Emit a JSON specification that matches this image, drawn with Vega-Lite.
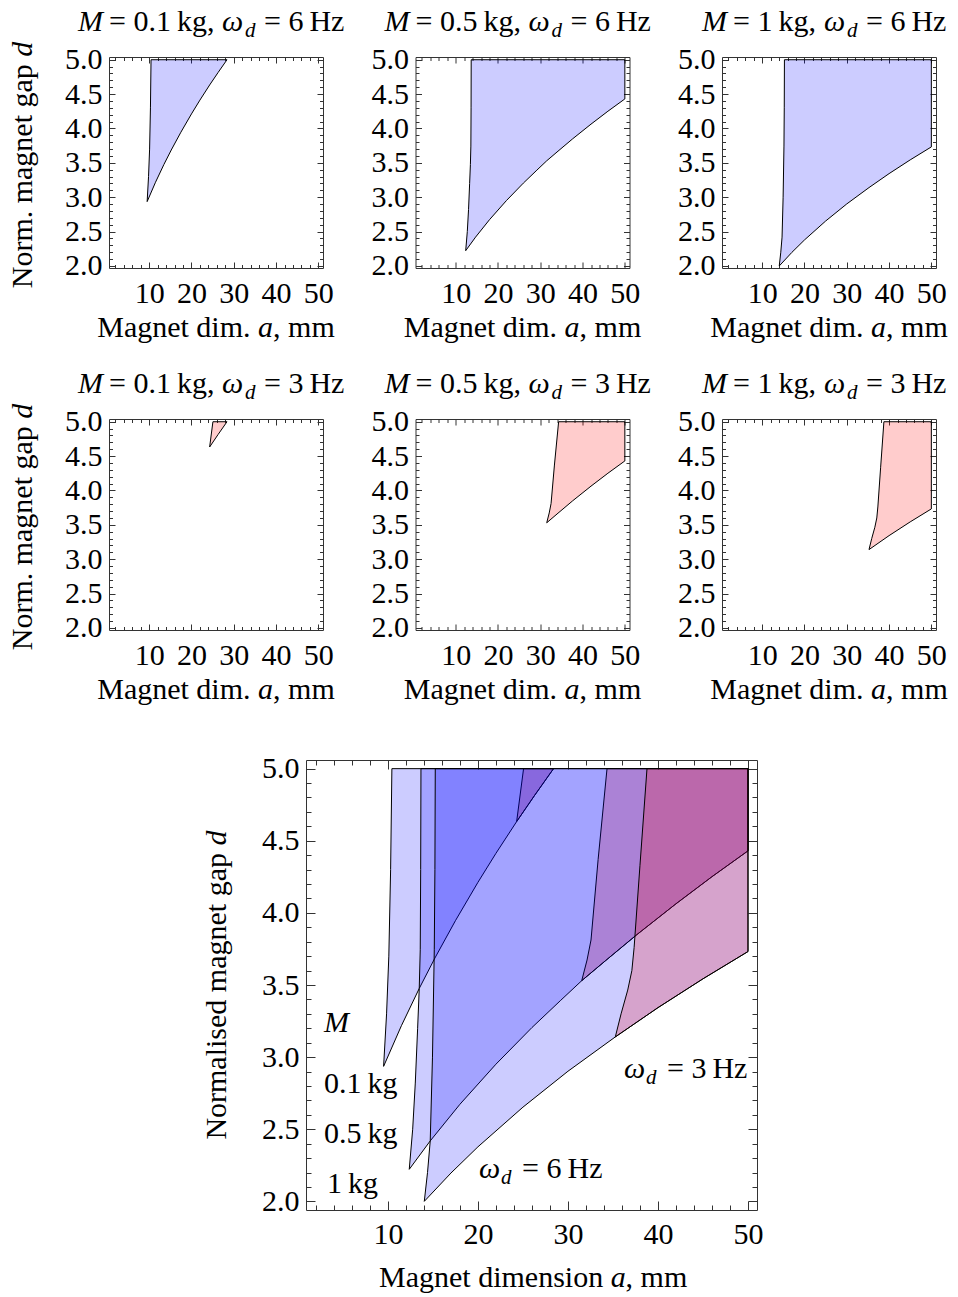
{
"$schema":"https://vega.github.io/schema/vega-lite/v6.json",
"background":"white",
"padding":{"left":7,"top":7,"right":0,"bottom":0},
"config":{
 "view":{"stroke":null},
 "axis":{"labelFont":"Liberation Serif","labelFontSize":30,"labelColor":"black","domainColor":"#333333","tickColor":"#333333","grid":false,"labelFlush":false,"labelOverlap":false,"labelBound":false,"tickWidth":1,"domainWidth":1},
 "text":{"font":"Liberation Serif","fontSize":30,"color":"black","align":"left","baseline":"alphabetic"}
},
"datasets":{"polys":[
{"poly":"p1","M":0.1,"freq":"6 Hz","i":0,"a":9.52,"d":2.936},
{"poly":"p1","M":0.1,"freq":"6 Hz","i":1,"a":9.85,"d":3.3},
{"poly":"p1","M":0.1,"freq":"6 Hz","i":2,"a":10.1,"d":3.7},
{"poly":"p1","M":0.1,"freq":"6 Hz","i":3,"a":10.3,"d":4.3},
{"poly":"p1","M":0.1,"freq":"6 Hz","i":4,"a":10.44,"d":5.0},
{"poly":"p1","M":0.1,"freq":"6 Hz","i":5,"a":28.4,"d":5.0},
{"poly":"p1","M":0.1,"freq":"6 Hz","i":6,"a":26.3,"d":4.815},
{"poly":"p1","M":0.1,"freq":"6 Hz","i":7,"a":24.3,"d":4.633},
{"poly":"p1","M":0.1,"freq":"6 Hz","i":8,"a":22,"d":4.413},
{"poly":"p1","M":0.1,"freq":"6 Hz","i":9,"a":20,"d":4.212},
{"poly":"p1","M":0.1,"freq":"6 Hz","i":10,"a":17.5,"d":3.946},
{"poly":"p1","M":0.1,"freq":"6 Hz","i":11,"a":15.22,"d":3.687},
{"poly":"p1","M":0.1,"freq":"6 Hz","i":12,"a":13.48,"d":3.476},
{"poly":"p1","M":0.1,"freq":"6 Hz","i":13,"a":11.5,"d":3.218},
{"poly":"p1","M":0.1,"freq":"6 Hz","i":14,"a":9.52,"d":2.936},
{"poly":"p2","M":0.1,"freq":"3 Hz","i":0,"a":24.3,"d":4.633},
{"poly":"p2","M":0.1,"freq":"3 Hz","i":1,"a":25.07,"d":5.0},
{"poly":"p2","M":0.1,"freq":"3 Hz","i":2,"a":28.4,"d":5.0},
{"poly":"p2","M":0.1,"freq":"3 Hz","i":3,"a":26.3,"d":4.815},
{"poly":"p2","M":0.1,"freq":"3 Hz","i":4,"a":24.3,"d":4.633},
{"poly":"p3","M":0.5,"freq":"6 Hz","i":0,"a":12.37,"d":2.222},
{"poly":"p3","M":0.5,"freq":"6 Hz","i":1,"a":12.75,"d":2.5},
{"poly":"p3","M":0.5,"freq":"6 Hz","i":2,"a":13.04,"d":2.82},
{"poly":"p3","M":0.5,"freq":"6 Hz","i":3,"a":13.3,"d":3.2},
{"poly":"p3","M":0.5,"freq":"6 Hz","i":4,"a":13.48,"d":3.476},
{"poly":"p3","M":0.5,"freq":"6 Hz","i":5,"a":13.59,"d":3.744},
{"poly":"p3","M":0.5,"freq":"6 Hz","i":6,"a":13.64,"d":4.3},
{"poly":"p3","M":0.5,"freq":"6 Hz","i":7,"a":13.67,"d":5.0},
{"poly":"p3","M":0.5,"freq":"6 Hz","i":8,"a":50,"d":5.0},
{"poly":"p3","M":0.5,"freq":"6 Hz","i":9,"a":50,"d":4.43},
{"poly":"p3","M":0.5,"freq":"6 Hz","i":10,"a":46,"d":4.251},
{"poly":"p3","M":0.5,"freq":"6 Hz","i":11,"a":42,"d":4.063},
{"poly":"p3","M":0.5,"freq":"6 Hz","i":12,"a":37.67,"d":3.85},
{"poly":"p3","M":0.5,"freq":"6 Hz","i":13,"a":34.2,"d":3.67},
{"poly":"p3","M":0.5,"freq":"6 Hz","i":14,"a":31.53,"d":3.53},
{"poly":"p3","M":0.5,"freq":"6 Hz","i":15,"a":29.2,"d":3.394},
{"poly":"p3","M":0.5,"freq":"6 Hz","i":16,"a":26,"d":3.205},
{"poly":"p3","M":0.5,"freq":"6 Hz","i":17,"a":22,"d":2.951},
{"poly":"p3","M":0.5,"freq":"6 Hz","i":18,"a":18,"d":2.673},
{"poly":"p3","M":0.5,"freq":"6 Hz","i":19,"a":14.7,"d":2.419},
{"poly":"p3","M":0.5,"freq":"6 Hz","i":20,"a":12.37,"d":2.222},
{"poly":"p4","M":0.5,"freq":"3 Hz","i":0,"a":31.53,"d":3.53},
{"poly":"p4","M":0.5,"freq":"3 Hz","i":1,"a":32.12,"d":3.673},
{"poly":"p4","M":0.5,"freq":"3 Hz","i":2,"a":32.56,"d":3.812},
{"poly":"p4","M":0.5,"freq":"3 Hz","i":3,"a":33.35,"d":4.37},
{"poly":"p4","M":0.5,"freq":"3 Hz","i":4,"a":34.34,"d":5.0},
{"poly":"p4","M":0.5,"freq":"3 Hz","i":5,"a":50,"d":5.0},
{"poly":"p4","M":0.5,"freq":"3 Hz","i":6,"a":50,"d":4.43},
{"poly":"p4","M":0.5,"freq":"3 Hz","i":7,"a":46,"d":4.251},
{"poly":"p4","M":0.5,"freq":"3 Hz","i":8,"a":42,"d":4.063},
{"poly":"p4","M":0.5,"freq":"3 Hz","i":9,"a":37.67,"d":3.85},
{"poly":"p4","M":0.5,"freq":"3 Hz","i":10,"a":34.2,"d":3.67},
{"poly":"p4","M":0.5,"freq":"3 Hz","i":11,"a":31.53,"d":3.53},
{"poly":"p5","M":1,"freq":"6 Hz","i":0,"a":14.04,"d":2.0},
{"poly":"p5","M":1,"freq":"6 Hz","i":1,"a":14.4,"d":2.2},
{"poly":"p5","M":1,"freq":"6 Hz","i":2,"a":14.7,"d":2.419},
{"poly":"p5","M":1,"freq":"6 Hz","i":3,"a":14.95,"d":3.0},
{"poly":"p5","M":1,"freq":"6 Hz","i":4,"a":15.15,"d":3.744},
{"poly":"p5","M":1,"freq":"6 Hz","i":5,"a":15.22,"d":4.3},
{"poly":"p5","M":1,"freq":"6 Hz","i":6,"a":15.26,"d":5.0},
{"poly":"p5","M":1,"freq":"6 Hz","i":7,"a":50,"d":5.0},
{"poly":"p5","M":1,"freq":"6 Hz","i":8,"a":50,"d":3.732},
{"poly":"p5","M":1,"freq":"6 Hz","i":9,"a":45,"d":3.543},
{"poly":"p5","M":1,"freq":"6 Hz","i":10,"a":40,"d":3.343},
{"poly":"p5","M":1,"freq":"6 Hz","i":11,"a":35.26,"d":3.14},
{"poly":"p5","M":1,"freq":"6 Hz","i":12,"a":30,"d":2.902},
{"poly":"p5","M":1,"freq":"6 Hz","i":13,"a":25,"d":2.653},
{"poly":"p5","M":1,"freq":"6 Hz","i":14,"a":20,"d":2.378},
{"poly":"p5","M":1,"freq":"6 Hz","i":15,"a":17,"d":2.196},
{"poly":"p5","M":1,"freq":"6 Hz","i":16,"a":14.04,"d":2.0},
{"poly":"p6","M":1,"freq":"3 Hz","i":0,"a":35.26,"d":3.14},
{"poly":"p6","M":1,"freq":"3 Hz","i":1,"a":35.9,"d":3.3},
{"poly":"p6","M":1,"freq":"3 Hz","i":2,"a":36.64,"d":3.465},
{"poly":"p6","M":1,"freq":"3 Hz","i":3,"a":37.1,"d":3.6},
{"poly":"p6","M":1,"freq":"3 Hz","i":4,"a":37.35,"d":3.76},
{"poly":"p6","M":1,"freq":"3 Hz","i":5,"a":38.0,"d":4.33},
{"poly":"p6","M":1,"freq":"3 Hz","i":6,"a":38.78,"d":5.0},
{"poly":"p6","M":1,"freq":"3 Hz","i":7,"a":50,"d":5.0},
{"poly":"p6","M":1,"freq":"3 Hz","i":8,"a":50,"d":3.732},
{"poly":"p6","M":1,"freq":"3 Hz","i":9,"a":45,"d":3.543},
{"poly":"p6","M":1,"freq":"3 Hz","i":10,"a":40,"d":3.343},
{"poly":"p6","M":1,"freq":"3 Hz","i":11,"a":35.26,"d":3.14}
]},
"vconcat":[
{"vconcat":[
{"hconcat":[
{"width":214,"height":211,"data":{"name":"polys"},"resolve":{"axis":{"x":"independent","y":"independent"}},"layer":[
{"transform":[{"filter":"datum.poly === 'p1'"}],"mark":{"type":"line","stroke":"black","strokeWidth":1,"fillOpacity":0.2},"encoding":{"x":{"field":"a","type":"quantitative","scale":{"domain":[0.5,51.1],"nice":false},"axis":{"orient":"bottom","values":[10,20,30,40,50],"tickSize":-6,"labelPadding":16,"title":null}},"y":{"field":"d","type":"quantitative","scale":{"domain":[1.97,5.04],"nice":false},"axis":{"orient":"left","values":[2,2.5,3,3.5,4,4.5,5],"format":".1f","tickSize":-6,"labelPadding":13,"title":null}},"order":{"field":"i","type":"quantitative"},"detail":{"field":"poly","type":"nominal"},"fill":{"field":"freq","type":"nominal","scale":{"domain":["6 Hz","3 Hz"],"range":["#0000ff","#ff0000"]},"legend":null}}},
{"mark":{"type":"point","opacity":0},"encoding":{"x":{"field":"a","type":"quantitative","axis":{"orient":"bottom","values":[2,4,6,8,12,14,16,18,22,24,26,28,32,34,36,38,42,44,46,48],"tickSize":-3.5,"labels":false,"domain":false,"title":null}},"y":{"field":"d","type":"quantitative","axis":{"orient":"left","values":[2.1,2.2,2.3,2.4,2.6,2.7,2.8,2.9,3.1,3.2,3.3,3.4,3.6,3.7,3.8,3.9,4.1,4.2,4.3,4.4,4.6,4.7,4.8,4.9],"tickSize":-3.5,"labels":false,"domain":false,"title":null}}}},
{"mark":{"type":"point","opacity":0},"encoding":{"x":{"field":"a","type":"quantitative","axis":{"orient":"top","values":[10,20,30,40,50],"tickSize":-6,"labels":false,"title":null}},"y":{"field":"d","type":"quantitative","axis":{"orient":"right","values":[2,2.5,3,3.5,4,4.5,5],"tickSize":-6,"labels":false,"title":null}}}},
{"mark":{"type":"point","opacity":0},"encoding":{"x":{"field":"a","type":"quantitative","axis":{"orient":"top","values":[2,4,6,8,12,14,16,18,22,24,26,28,32,34,36,38,42,44,46,48],"tickSize":-3.5,"labels":false,"domain":false,"title":null}},"y":{"field":"d","type":"quantitative","axis":{"orient":"right","values":[2.1,2.2,2.3,2.4,2.6,2.7,2.8,2.9,3.1,3.2,3.3,3.4,3.6,3.7,3.8,3.9,4.1,4.2,4.3,4.4,4.6,4.7,4.8,4.9],"tickSize":-3.5,"labels":false,"domain":false,"title":null}}}},
{"data":{"values":[{"t":"M"}]},"mark":{"type":"text","fontStyle":"italic"},"encoding":{"text":{"field":"t"},"x":{"datum":-6.83,"axis":null},"y":{"datum":5.418,"axis":null}}},
{"data":{"values":[{"t":"= 0.1\u2009kg,"}]},"mark":{"type":"text"},"encoding":{"text":{"field":"t"},"x":{"datum":0.5,"axis":null},"y":{"datum":5.418,"axis":null}}},
{"data":{"values":[{"t":"ω"}]},"mark":{"type":"text","fontStyle":"italic"},"encoding":{"text":{"field":"t"},"x":{"datum":27.22,"axis":null},"y":{"datum":5.418,"axis":null}}},
{"data":{"values":[{"t":"d"}]},"mark":{"type":"text","fontStyle":"italic","fontSize":21},"encoding":{"text":{"field":"t"},"x":{"datum":32.66,"axis":null},"y":{"datum":5.331,"axis":null}}},
{"data":{"values":[{"t":"= 6\u2009Hz"}]},"mark":{"type":"text"},"encoding":{"text":{"field":"t"},"x":{"datum":37.15,"axis":null},"y":{"datum":5.418,"axis":null}}},
{"data":{"values":[{"t":"Magnet dim."}]},"mark":{"type":"text"},"encoding":{"text":{"field":"t"},"x":{"datum":-2.29,"axis":null},"y":{"datum":0.966,"axis":null}}},
{"data":{"values":[{"t":"a"}]},"mark":{"type":"text","fontStyle":"italic"},"encoding":{"text":{"field":"t"},"x":{"datum":35.76,"axis":null},"y":{"datum":0.966,"axis":null}}},
{"data":{"values":[{"t":", mm"}]},"mark":{"type":"text"},"encoding":{"text":{"field":"t"},"x":{"datum":39.3,"axis":null},"y":{"datum":0.966,"axis":null}}},
{"data":{"values":[{"t":"Norm. magnet gap"}]},"mark":{"type":"text","angle":270},"encoding":{"text":{"field":"t"},"x":{"datum":-17.71,"axis":null},"y":{"datum":1.675,"axis":null}}},
{"data":{"values":[{"t":"d"}]},"mark":{"type":"text","angle":270,"fontStyle":"italic"},"encoding":{"text":{"field":"t"},"x":{"datum":-17.71,"axis":null},"y":{"datum":5.044,"axis":null}}}
]},
{"width":214,"height":211,"data":{"name":"polys"},"resolve":{"axis":{"x":"independent","y":"independent"}},"layer":[
{"transform":[{"filter":"datum.poly === 'p3'"}],"mark":{"type":"line","stroke":"black","strokeWidth":1,"fillOpacity":0.2},"encoding":{"x":{"field":"a","type":"quantitative","scale":{"domain":[0.5,51.1],"nice":false},"axis":{"orient":"bottom","values":[10,20,30,40,50],"tickSize":-6,"labelPadding":16,"title":null}},"y":{"field":"d","type":"quantitative","scale":{"domain":[1.97,5.04],"nice":false},"axis":{"orient":"left","values":[2,2.5,3,3.5,4,4.5,5],"format":".1f","tickSize":-6,"labelPadding":13,"title":null}},"order":{"field":"i","type":"quantitative"},"detail":{"field":"poly","type":"nominal"},"fill":{"field":"freq","type":"nominal","scale":{"domain":["6 Hz","3 Hz"],"range":["#0000ff","#ff0000"]},"legend":null}}},
{"mark":{"type":"point","opacity":0},"encoding":{"x":{"field":"a","type":"quantitative","axis":{"orient":"bottom","values":[2,4,6,8,12,14,16,18,22,24,26,28,32,34,36,38,42,44,46,48],"tickSize":-3.5,"labels":false,"domain":false,"title":null}},"y":{"field":"d","type":"quantitative","axis":{"orient":"left","values":[2.1,2.2,2.3,2.4,2.6,2.7,2.8,2.9,3.1,3.2,3.3,3.4,3.6,3.7,3.8,3.9,4.1,4.2,4.3,4.4,4.6,4.7,4.8,4.9],"tickSize":-3.5,"labels":false,"domain":false,"title":null}}}},
{"mark":{"type":"point","opacity":0},"encoding":{"x":{"field":"a","type":"quantitative","axis":{"orient":"top","values":[10,20,30,40,50],"tickSize":-6,"labels":false,"title":null}},"y":{"field":"d","type":"quantitative","axis":{"orient":"right","values":[2,2.5,3,3.5,4,4.5,5],"tickSize":-6,"labels":false,"title":null}}}},
{"mark":{"type":"point","opacity":0},"encoding":{"x":{"field":"a","type":"quantitative","axis":{"orient":"top","values":[2,4,6,8,12,14,16,18,22,24,26,28,32,34,36,38,42,44,46,48],"tickSize":-3.5,"labels":false,"domain":false,"title":null}},"y":{"field":"d","type":"quantitative","axis":{"orient":"right","values":[2.1,2.2,2.3,2.4,2.6,2.7,2.8,2.9,3.1,3.2,3.3,3.4,3.6,3.7,3.8,3.9,4.1,4.2,4.3,4.4,4.6,4.7,4.8,4.9],"tickSize":-3.5,"labels":false,"domain":false,"title":null}}}},
{"data":{"values":[{"t":"M"}]},"mark":{"type":"text","fontStyle":"italic"},"encoding":{"text":{"field":"t"},"x":{"datum":-6.83,"axis":null},"y":{"datum":5.418,"axis":null}}},
{"data":{"values":[{"t":"= 0.5\u2009kg,"}]},"mark":{"type":"text"},"encoding":{"text":{"field":"t"},"x":{"datum":0.5,"axis":null},"y":{"datum":5.418,"axis":null}}},
{"data":{"values":[{"t":"ω"}]},"mark":{"type":"text","fontStyle":"italic"},"encoding":{"text":{"field":"t"},"x":{"datum":27.22,"axis":null},"y":{"datum":5.418,"axis":null}}},
{"data":{"values":[{"t":"d"}]},"mark":{"type":"text","fontStyle":"italic","fontSize":21},"encoding":{"text":{"field":"t"},"x":{"datum":32.66,"axis":null},"y":{"datum":5.331,"axis":null}}},
{"data":{"values":[{"t":"= 6\u2009Hz"}]},"mark":{"type":"text"},"encoding":{"text":{"field":"t"},"x":{"datum":37.15,"axis":null},"y":{"datum":5.418,"axis":null}}},
{"data":{"values":[{"t":"Magnet dim."}]},"mark":{"type":"text"},"encoding":{"text":{"field":"t"},"x":{"datum":-2.29,"axis":null},"y":{"datum":0.966,"axis":null}}},
{"data":{"values":[{"t":"a"}]},"mark":{"type":"text","fontStyle":"italic"},"encoding":{"text":{"field":"t"},"x":{"datum":35.76,"axis":null},"y":{"datum":0.966,"axis":null}}},
{"data":{"values":[{"t":", mm"}]},"mark":{"type":"text"},"encoding":{"text":{"field":"t"},"x":{"datum":39.3,"axis":null},"y":{"datum":0.966,"axis":null}}}
]},
{"width":214,"height":211,"data":{"name":"polys"},"resolve":{"axis":{"x":"independent","y":"independent"}},"layer":[
{"transform":[{"filter":"datum.poly === 'p5'"}],"mark":{"type":"line","stroke":"black","strokeWidth":1,"fillOpacity":0.2},"encoding":{"x":{"field":"a","type":"quantitative","scale":{"domain":[0.5,51.1],"nice":false},"axis":{"orient":"bottom","values":[10,20,30,40,50],"tickSize":-6,"labelPadding":16,"title":null}},"y":{"field":"d","type":"quantitative","scale":{"domain":[1.97,5.04],"nice":false},"axis":{"orient":"left","values":[2,2.5,3,3.5,4,4.5,5],"format":".1f","tickSize":-6,"labelPadding":13,"title":null}},"order":{"field":"i","type":"quantitative"},"detail":{"field":"poly","type":"nominal"},"fill":{"field":"freq","type":"nominal","scale":{"domain":["6 Hz","3 Hz"],"range":["#0000ff","#ff0000"]},"legend":null}}},
{"mark":{"type":"point","opacity":0},"encoding":{"x":{"field":"a","type":"quantitative","axis":{"orient":"bottom","values":[2,4,6,8,12,14,16,18,22,24,26,28,32,34,36,38,42,44,46,48],"tickSize":-3.5,"labels":false,"domain":false,"title":null}},"y":{"field":"d","type":"quantitative","axis":{"orient":"left","values":[2.1,2.2,2.3,2.4,2.6,2.7,2.8,2.9,3.1,3.2,3.3,3.4,3.6,3.7,3.8,3.9,4.1,4.2,4.3,4.4,4.6,4.7,4.8,4.9],"tickSize":-3.5,"labels":false,"domain":false,"title":null}}}},
{"mark":{"type":"point","opacity":0},"encoding":{"x":{"field":"a","type":"quantitative","axis":{"orient":"top","values":[10,20,30,40,50],"tickSize":-6,"labels":false,"title":null}},"y":{"field":"d","type":"quantitative","axis":{"orient":"right","values":[2,2.5,3,3.5,4,4.5,5],"tickSize":-6,"labels":false,"title":null}}}},
{"mark":{"type":"point","opacity":0},"encoding":{"x":{"field":"a","type":"quantitative","axis":{"orient":"top","values":[2,4,6,8,12,14,16,18,22,24,26,28,32,34,36,38,42,44,46,48],"tickSize":-3.5,"labels":false,"domain":false,"title":null}},"y":{"field":"d","type":"quantitative","axis":{"orient":"right","values":[2.1,2.2,2.3,2.4,2.6,2.7,2.8,2.9,3.1,3.2,3.3,3.4,3.6,3.7,3.8,3.9,4.1,4.2,4.3,4.4,4.6,4.7,4.8,4.9],"tickSize":-3.5,"labels":false,"domain":false,"title":null}}}},
{"data":{"values":[{"t":"M"}]},"mark":{"type":"text","fontStyle":"italic"},"encoding":{"text":{"field":"t"},"x":{"datum":-4.23,"axis":null},"y":{"datum":5.418,"axis":null}}},
{"data":{"values":[{"t":"= 1\u2009kg,"}]},"mark":{"type":"text"},"encoding":{"text":{"field":"t"},"x":{"datum":3.1,"axis":null},"y":{"datum":5.418,"axis":null}}},
{"data":{"values":[{"t":"ω"}]},"mark":{"type":"text","fontStyle":"italic"},"encoding":{"text":{"field":"t"},"x":{"datum":24.62,"axis":null},"y":{"datum":5.418,"axis":null}}},
{"data":{"values":[{"t":"d"}]},"mark":{"type":"text","fontStyle":"italic","fontSize":21},"encoding":{"text":{"field":"t"},"x":{"datum":30.06,"axis":null},"y":{"datum":5.331,"axis":null}}},
{"data":{"values":[{"t":"= 6\u2009Hz"}]},"mark":{"type":"text"},"encoding":{"text":{"field":"t"},"x":{"datum":34.55,"axis":null},"y":{"datum":5.418,"axis":null}}},
{"data":{"values":[{"t":"Magnet dim."}]},"mark":{"type":"text"},"encoding":{"text":{"field":"t"},"x":{"datum":-2.29,"axis":null},"y":{"datum":0.966,"axis":null}}},
{"data":{"values":[{"t":"a"}]},"mark":{"type":"text","fontStyle":"italic"},"encoding":{"text":{"field":"t"},"x":{"datum":35.76,"axis":null},"y":{"datum":0.966,"axis":null}}},
{"data":{"values":[{"t":", mm"}]},"mark":{"type":"text"},"encoding":{"text":{"field":"t"},"x":{"datum":39.3,"axis":null},"y":{"datum":0.966,"axis":null}}}
]}
],"spacing":92.5,"bounds":"flush"},
{"hconcat":[
{"width":214,"height":211,"data":{"name":"polys"},"resolve":{"axis":{"x":"independent","y":"independent"}},"layer":[
{"transform":[{"filter":"datum.poly === 'p2'"}],"mark":{"type":"line","stroke":"black","strokeWidth":1,"fillOpacity":0.2},"encoding":{"x":{"field":"a","type":"quantitative","scale":{"domain":[0.5,51.1],"nice":false},"axis":{"orient":"bottom","values":[10,20,30,40,50],"tickSize":-6,"labelPadding":16,"title":null}},"y":{"field":"d","type":"quantitative","scale":{"domain":[1.97,5.04],"nice":false},"axis":{"orient":"left","values":[2,2.5,3,3.5,4,4.5,5],"format":".1f","tickSize":-6,"labelPadding":13,"title":null}},"order":{"field":"i","type":"quantitative"},"detail":{"field":"poly","type":"nominal"},"fill":{"field":"freq","type":"nominal","scale":{"domain":["6 Hz","3 Hz"],"range":["#0000ff","#ff0000"]},"legend":null}}},
{"mark":{"type":"point","opacity":0},"encoding":{"x":{"field":"a","type":"quantitative","axis":{"orient":"bottom","values":[2,4,6,8,12,14,16,18,22,24,26,28,32,34,36,38,42,44,46,48],"tickSize":-3.5,"labels":false,"domain":false,"title":null}},"y":{"field":"d","type":"quantitative","axis":{"orient":"left","values":[2.1,2.2,2.3,2.4,2.6,2.7,2.8,2.9,3.1,3.2,3.3,3.4,3.6,3.7,3.8,3.9,4.1,4.2,4.3,4.4,4.6,4.7,4.8,4.9],"tickSize":-3.5,"labels":false,"domain":false,"title":null}}}},
{"mark":{"type":"point","opacity":0},"encoding":{"x":{"field":"a","type":"quantitative","axis":{"orient":"top","values":[10,20,30,40,50],"tickSize":-6,"labels":false,"title":null}},"y":{"field":"d","type":"quantitative","axis":{"orient":"right","values":[2,2.5,3,3.5,4,4.5,5],"tickSize":-6,"labels":false,"title":null}}}},
{"mark":{"type":"point","opacity":0},"encoding":{"x":{"field":"a","type":"quantitative","axis":{"orient":"top","values":[2,4,6,8,12,14,16,18,22,24,26,28,32,34,36,38,42,44,46,48],"tickSize":-3.5,"labels":false,"domain":false,"title":null}},"y":{"field":"d","type":"quantitative","axis":{"orient":"right","values":[2.1,2.2,2.3,2.4,2.6,2.7,2.8,2.9,3.1,3.2,3.3,3.4,3.6,3.7,3.8,3.9,4.1,4.2,4.3,4.4,4.6,4.7,4.8,4.9],"tickSize":-3.5,"labels":false,"domain":false,"title":null}}}},
{"data":{"values":[{"t":"M"}]},"mark":{"type":"text","fontStyle":"italic"},"encoding":{"text":{"field":"t"},"x":{"datum":-6.83,"axis":null},"y":{"datum":5.418,"axis":null}}},
{"data":{"values":[{"t":"= 0.1\u2009kg,"}]},"mark":{"type":"text"},"encoding":{"text":{"field":"t"},"x":{"datum":0.5,"axis":null},"y":{"datum":5.418,"axis":null}}},
{"data":{"values":[{"t":"ω"}]},"mark":{"type":"text","fontStyle":"italic"},"encoding":{"text":{"field":"t"},"x":{"datum":27.22,"axis":null},"y":{"datum":5.418,"axis":null}}},
{"data":{"values":[{"t":"d"}]},"mark":{"type":"text","fontStyle":"italic","fontSize":21},"encoding":{"text":{"field":"t"},"x":{"datum":32.66,"axis":null},"y":{"datum":5.331,"axis":null}}},
{"data":{"values":[{"t":"= 3\u2009Hz"}]},"mark":{"type":"text"},"encoding":{"text":{"field":"t"},"x":{"datum":37.15,"axis":null},"y":{"datum":5.418,"axis":null}}},
{"data":{"values":[{"t":"Magnet dim."}]},"mark":{"type":"text"},"encoding":{"text":{"field":"t"},"x":{"datum":-2.29,"axis":null},"y":{"datum":0.966,"axis":null}}},
{"data":{"values":[{"t":"a"}]},"mark":{"type":"text","fontStyle":"italic"},"encoding":{"text":{"field":"t"},"x":{"datum":35.76,"axis":null},"y":{"datum":0.966,"axis":null}}},
{"data":{"values":[{"t":", mm"}]},"mark":{"type":"text"},"encoding":{"text":{"field":"t"},"x":{"datum":39.3,"axis":null},"y":{"datum":0.966,"axis":null}}},
{"data":{"values":[{"t":"Norm. magnet gap"}]},"mark":{"type":"text","angle":270},"encoding":{"text":{"field":"t"},"x":{"datum":-17.71,"axis":null},"y":{"datum":1.675,"axis":null}}},
{"data":{"values":[{"t":"d"}]},"mark":{"type":"text","angle":270,"fontStyle":"italic"},"encoding":{"text":{"field":"t"},"x":{"datum":-17.71,"axis":null},"y":{"datum":5.044,"axis":null}}}
]},
{"width":214,"height":211,"data":{"name":"polys"},"resolve":{"axis":{"x":"independent","y":"independent"}},"layer":[
{"transform":[{"filter":"datum.poly === 'p4'"}],"mark":{"type":"line","stroke":"black","strokeWidth":1,"fillOpacity":0.2},"encoding":{"x":{"field":"a","type":"quantitative","scale":{"domain":[0.5,51.1],"nice":false},"axis":{"orient":"bottom","values":[10,20,30,40,50],"tickSize":-6,"labelPadding":16,"title":null}},"y":{"field":"d","type":"quantitative","scale":{"domain":[1.97,5.04],"nice":false},"axis":{"orient":"left","values":[2,2.5,3,3.5,4,4.5,5],"format":".1f","tickSize":-6,"labelPadding":13,"title":null}},"order":{"field":"i","type":"quantitative"},"detail":{"field":"poly","type":"nominal"},"fill":{"field":"freq","type":"nominal","scale":{"domain":["6 Hz","3 Hz"],"range":["#0000ff","#ff0000"]},"legend":null}}},
{"mark":{"type":"point","opacity":0},"encoding":{"x":{"field":"a","type":"quantitative","axis":{"orient":"bottom","values":[2,4,6,8,12,14,16,18,22,24,26,28,32,34,36,38,42,44,46,48],"tickSize":-3.5,"labels":false,"domain":false,"title":null}},"y":{"field":"d","type":"quantitative","axis":{"orient":"left","values":[2.1,2.2,2.3,2.4,2.6,2.7,2.8,2.9,3.1,3.2,3.3,3.4,3.6,3.7,3.8,3.9,4.1,4.2,4.3,4.4,4.6,4.7,4.8,4.9],"tickSize":-3.5,"labels":false,"domain":false,"title":null}}}},
{"mark":{"type":"point","opacity":0},"encoding":{"x":{"field":"a","type":"quantitative","axis":{"orient":"top","values":[10,20,30,40,50],"tickSize":-6,"labels":false,"title":null}},"y":{"field":"d","type":"quantitative","axis":{"orient":"right","values":[2,2.5,3,3.5,4,4.5,5],"tickSize":-6,"labels":false,"title":null}}}},
{"mark":{"type":"point","opacity":0},"encoding":{"x":{"field":"a","type":"quantitative","axis":{"orient":"top","values":[2,4,6,8,12,14,16,18,22,24,26,28,32,34,36,38,42,44,46,48],"tickSize":-3.5,"labels":false,"domain":false,"title":null}},"y":{"field":"d","type":"quantitative","axis":{"orient":"right","values":[2.1,2.2,2.3,2.4,2.6,2.7,2.8,2.9,3.1,3.2,3.3,3.4,3.6,3.7,3.8,3.9,4.1,4.2,4.3,4.4,4.6,4.7,4.8,4.9],"tickSize":-3.5,"labels":false,"domain":false,"title":null}}}},
{"data":{"values":[{"t":"M"}]},"mark":{"type":"text","fontStyle":"italic"},"encoding":{"text":{"field":"t"},"x":{"datum":-6.83,"axis":null},"y":{"datum":5.418,"axis":null}}},
{"data":{"values":[{"t":"= 0.5\u2009kg,"}]},"mark":{"type":"text"},"encoding":{"text":{"field":"t"},"x":{"datum":0.5,"axis":null},"y":{"datum":5.418,"axis":null}}},
{"data":{"values":[{"t":"ω"}]},"mark":{"type":"text","fontStyle":"italic"},"encoding":{"text":{"field":"t"},"x":{"datum":27.22,"axis":null},"y":{"datum":5.418,"axis":null}}},
{"data":{"values":[{"t":"d"}]},"mark":{"type":"text","fontStyle":"italic","fontSize":21},"encoding":{"text":{"field":"t"},"x":{"datum":32.66,"axis":null},"y":{"datum":5.331,"axis":null}}},
{"data":{"values":[{"t":"= 3\u2009Hz"}]},"mark":{"type":"text"},"encoding":{"text":{"field":"t"},"x":{"datum":37.15,"axis":null},"y":{"datum":5.418,"axis":null}}},
{"data":{"values":[{"t":"Magnet dim."}]},"mark":{"type":"text"},"encoding":{"text":{"field":"t"},"x":{"datum":-2.29,"axis":null},"y":{"datum":0.966,"axis":null}}},
{"data":{"values":[{"t":"a"}]},"mark":{"type":"text","fontStyle":"italic"},"encoding":{"text":{"field":"t"},"x":{"datum":35.76,"axis":null},"y":{"datum":0.966,"axis":null}}},
{"data":{"values":[{"t":", mm"}]},"mark":{"type":"text"},"encoding":{"text":{"field":"t"},"x":{"datum":39.3,"axis":null},"y":{"datum":0.966,"axis":null}}}
]},
{"width":214,"height":211,"data":{"name":"polys"},"resolve":{"axis":{"x":"independent","y":"independent"}},"layer":[
{"transform":[{"filter":"datum.poly === 'p6'"}],"mark":{"type":"line","stroke":"black","strokeWidth":1,"fillOpacity":0.2},"encoding":{"x":{"field":"a","type":"quantitative","scale":{"domain":[0.5,51.1],"nice":false},"axis":{"orient":"bottom","values":[10,20,30,40,50],"tickSize":-6,"labelPadding":16,"title":null}},"y":{"field":"d","type":"quantitative","scale":{"domain":[1.97,5.04],"nice":false},"axis":{"orient":"left","values":[2,2.5,3,3.5,4,4.5,5],"format":".1f","tickSize":-6,"labelPadding":13,"title":null}},"order":{"field":"i","type":"quantitative"},"detail":{"field":"poly","type":"nominal"},"fill":{"field":"freq","type":"nominal","scale":{"domain":["6 Hz","3 Hz"],"range":["#0000ff","#ff0000"]},"legend":null}}},
{"mark":{"type":"point","opacity":0},"encoding":{"x":{"field":"a","type":"quantitative","axis":{"orient":"bottom","values":[2,4,6,8,12,14,16,18,22,24,26,28,32,34,36,38,42,44,46,48],"tickSize":-3.5,"labels":false,"domain":false,"title":null}},"y":{"field":"d","type":"quantitative","axis":{"orient":"left","values":[2.1,2.2,2.3,2.4,2.6,2.7,2.8,2.9,3.1,3.2,3.3,3.4,3.6,3.7,3.8,3.9,4.1,4.2,4.3,4.4,4.6,4.7,4.8,4.9],"tickSize":-3.5,"labels":false,"domain":false,"title":null}}}},
{"mark":{"type":"point","opacity":0},"encoding":{"x":{"field":"a","type":"quantitative","axis":{"orient":"top","values":[10,20,30,40,50],"tickSize":-6,"labels":false,"title":null}},"y":{"field":"d","type":"quantitative","axis":{"orient":"right","values":[2,2.5,3,3.5,4,4.5,5],"tickSize":-6,"labels":false,"title":null}}}},
{"mark":{"type":"point","opacity":0},"encoding":{"x":{"field":"a","type":"quantitative","axis":{"orient":"top","values":[2,4,6,8,12,14,16,18,22,24,26,28,32,34,36,38,42,44,46,48],"tickSize":-3.5,"labels":false,"domain":false,"title":null}},"y":{"field":"d","type":"quantitative","axis":{"orient":"right","values":[2.1,2.2,2.3,2.4,2.6,2.7,2.8,2.9,3.1,3.2,3.3,3.4,3.6,3.7,3.8,3.9,4.1,4.2,4.3,4.4,4.6,4.7,4.8,4.9],"tickSize":-3.5,"labels":false,"domain":false,"title":null}}}},
{"data":{"values":[{"t":"M"}]},"mark":{"type":"text","fontStyle":"italic"},"encoding":{"text":{"field":"t"},"x":{"datum":-4.23,"axis":null},"y":{"datum":5.418,"axis":null}}},
{"data":{"values":[{"t":"= 1\u2009kg,"}]},"mark":{"type":"text"},"encoding":{"text":{"field":"t"},"x":{"datum":3.1,"axis":null},"y":{"datum":5.418,"axis":null}}},
{"data":{"values":[{"t":"ω"}]},"mark":{"type":"text","fontStyle":"italic"},"encoding":{"text":{"field":"t"},"x":{"datum":24.62,"axis":null},"y":{"datum":5.418,"axis":null}}},
{"data":{"values":[{"t":"d"}]},"mark":{"type":"text","fontStyle":"italic","fontSize":21},"encoding":{"text":{"field":"t"},"x":{"datum":30.06,"axis":null},"y":{"datum":5.331,"axis":null}}},
{"data":{"values":[{"t":"= 3\u2009Hz"}]},"mark":{"type":"text"},"encoding":{"text":{"field":"t"},"x":{"datum":34.55,"axis":null},"y":{"datum":5.418,"axis":null}}},
{"data":{"values":[{"t":"Magnet dim."}]},"mark":{"type":"text"},"encoding":{"text":{"field":"t"},"x":{"datum":-2.29,"axis":null},"y":{"datum":0.966,"axis":null}}},
{"data":{"values":[{"t":"a"}]},"mark":{"type":"text","fontStyle":"italic"},"encoding":{"text":{"field":"t"},"x":{"datum":35.76,"axis":null},"y":{"datum":0.966,"axis":null}}},
{"data":{"values":[{"t":", mm"}]},"mark":{"type":"text"},"encoding":{"text":{"field":"t"},"x":{"datum":39.3,"axis":null},"y":{"datum":0.966,"axis":null}}}
]}
],"spacing":92.5,"bounds":"flush"}
],"spacing":25},
{"hconcat":[
{"width":100,"height":450,"data":{"values":[]},"mark":"point","view":{"stroke":"transparent"}},
{"width":451,"height":450,"data":{"name":"polys"},"resolve":{"axis":{"x":"independent","y":"independent"}},"layer":[
{"mark":{"type":"line","stroke":"black","strokeWidth":1,"fillOpacity":0.2},"encoding":{"x":{"field":"a","type":"quantitative","scale":{"domain":[0.9,51],"nice":false},"axis":{"orient":"bottom","values":[10,20,30,40,50],"tickSize":-9,"labelPadding":18,"title":null}},"y":{"field":"d","type":"quantitative","scale":{"domain":[1.94,5.06],"nice":false},"axis":{"orient":"left","values":[2,2.5,3,3.5,4,4.5,5],"format":".1f","tickSize":-9,"labelPadding":16,"title":null}},"order":{"field":"i","type":"quantitative"},"detail":{"field":"poly","type":"nominal"},"fill":{"field":"freq","type":"nominal","scale":{"domain":["6 Hz","3 Hz"],"range":["#0000ff","#ff0000"]},"legend":null}}},
{"mark":{"type":"point","opacity":0},"encoding":{"x":{"field":"a","type":"quantitative","axis":{"orient":"bottom","values":[2,4,6,8,12,14,16,18,22,24,26,28,32,34,36,38,42,44,46,48],"tickSize":-5,"labels":false,"domain":false,"title":null}},"y":{"field":"d","type":"quantitative","axis":{"orient":"left","values":[2.1,2.2,2.3,2.4,2.6,2.7,2.8,2.9,3.1,3.2,3.3,3.4,3.6,3.7,3.8,3.9,4.1,4.2,4.3,4.4,4.6,4.7,4.8,4.9],"tickSize":-5,"labels":false,"domain":false,"title":null}}}},
{"mark":{"type":"point","opacity":0},"encoding":{"x":{"field":"a","type":"quantitative","axis":{"orient":"top","values":[10,20,30,40,50],"tickSize":-9,"labels":false,"title":null}},"y":{"field":"d","type":"quantitative","axis":{"orient":"right","values":[2,2.5,3,3.5,4,4.5,5],"tickSize":-9,"labels":false,"title":null}}}},
{"mark":{"type":"point","opacity":0},"encoding":{"x":{"field":"a","type":"quantitative","axis":{"orient":"top","values":[2,4,6,8,12,14,16,18,22,24,26,28,32,34,36,38,42,44,46,48],"tickSize":-5,"labels":false,"domain":false,"title":null}},"y":{"field":"d","type":"quantitative","axis":{"orient":"right","values":[2.1,2.2,2.3,2.4,2.6,2.7,2.8,2.9,3.1,3.2,3.3,3.4,3.6,3.7,3.8,3.9,4.1,4.2,4.3,4.4,4.6,4.7,4.8,4.9],"tickSize":-5,"labels":false,"domain":false,"title":null}}}},
{"data":{"values":[{"t":"Normalised magnet gap"}]},"mark":{"type":"text","angle":270},"encoding":{"text":{"field":"t"},"x":{"datum":-7.99,"axis":null},"y":{"datum":2.428,"axis":null}}},
{"data":{"values":[{"t":"d"}]},"mark":{"type":"text","angle":270,"fontStyle":"italic"},"encoding":{"text":{"field":"t"},"x":{"datum":-7.99,"axis":null},"y":{"datum":4.467,"axis":null}}},
{"data":{"values":[{"t":"Magnet dimension"}]},"mark":{"type":"text"},"encoding":{"text":{"field":"t"},"x":{"datum":9.01,"axis":null},"y":{"datum":1.405,"axis":null}}},
{"data":{"values":[{"t":"a"}]},"mark":{"type":"text","fontStyle":"italic"},"encoding":{"text":{"field":"t"},"x":{"datum":34.74,"axis":null},"y":{"datum":1.405,"axis":null}}},
{"data":{"values":[{"t":", mm"}]},"mark":{"type":"text"},"encoding":{"text":{"field":"t"},"x":{"datum":36.4,"axis":null},"y":{"datum":1.405,"axis":null}}},
{"data":{"values":[{"t":"M"}]},"mark":{"type":"text","fontStyle":"italic"},"encoding":{"text":{"field":"t"},"x":{"datum":2.9,"axis":null},"y":{"datum":3.174,"axis":null}}},
{"data":{"values":[{"t":"0.1\u2009kg"}]},"mark":{"type":"text"},"encoding":{"text":{"field":"t"},"x":{"datum":2.9,"axis":null},"y":{"datum":2.751,"axis":null}}},
{"data":{"values":[{"t":"0.5\u2009kg"}]},"mark":{"type":"text"},"encoding":{"text":{"field":"t"},"x":{"datum":2.9,"axis":null},"y":{"datum":2.404,"axis":null}}},
{"data":{"values":[{"t":"1\u2009kg"}]},"mark":{"type":"text"},"encoding":{"text":{"field":"t"},"x":{"datum":3.23,"axis":null},"y":{"datum":2.057,"axis":null}}},
{"data":{"values":[{"t":"ω"}]},"mark":{"type":"text","fontStyle":"italic"},"encoding":{"text":{"field":"t"},"x":{"datum":36.23,"axis":null},"y":{"datum":2.855,"axis":null}}},
{"data":{"values":[{"t":"d"}]},"mark":{"type":"text","fontStyle":"italic","fontSize":21},"encoding":{"text":{"field":"t"},"x":{"datum":38.67,"axis":null},"y":{"datum":2.814,"axis":null}}},
{"data":{"values":[{"t":"= 3\u2009Hz"}]},"mark":{"type":"text"},"encoding":{"text":{"field":"t"},"x":{"datum":41.0,"axis":null},"y":{"datum":2.855,"axis":null}}},
{"data":{"values":[{"t":"ω"}]},"mark":{"type":"text","fontStyle":"italic"},"encoding":{"text":{"field":"t"},"x":{"datum":20.12,"axis":null},"y":{"datum":2.159,"axis":null}}},
{"data":{"values":[{"t":"d"}]},"mark":{"type":"text","fontStyle":"italic","fontSize":21},"encoding":{"text":{"field":"t"},"x":{"datum":22.56,"axis":null},"y":{"datum":2.118,"axis":null}}},
{"data":{"values":[{"t":"= 6\u2009Hz"}]},"mark":{"type":"text"},"encoding":{"text":{"field":"t"},"x":{"datum":24.9,"axis":null},"y":{"datum":2.159,"axis":null}}}
]}
],"spacing":97,"bounds":"flush"}
],
"spacing":47
}
